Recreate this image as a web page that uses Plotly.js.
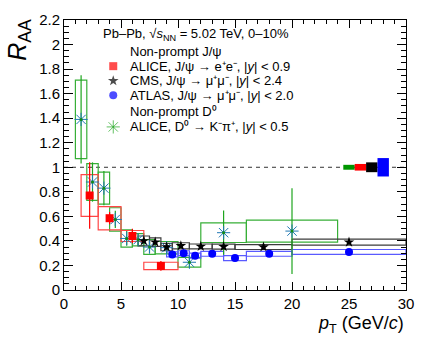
<!DOCTYPE html>
<html>
<head>
<meta charset="utf-8">
<script src="https://cdn.plot.ly/plotly-3.0.1.min.js"></script>
<style>
  body { margin: 0; background: #fff; }
  #raa { width: 432px; height: 338px; }
</style>
</head>
<body>
<div id="raa"></div>
<script>
// ALICE non-prompt J/psi -> e+e-
const aliceJpsiX = [2.25, 4.0, 6.0, 8.5];
const aliceJpsiLo = [1.5, 3, 5, 7];
const aliceJpsiHi = [3, 5, 7, 10];
const aliceJpsiY = [0.77, 0.585, 0.44, 0.196];
const aliceJpsiStat = [0.27, 0.05, 0.06, 0.04];
const aliceJpsiSys = [0.17, 0.095, 0.045, 0.03];

// CMS non-prompt J/psi -> mu+mu-
const cmsX = [7, 8, 9, 10.25, 12, 14, 17.5, 25];
const cmsLo = [6.5, 7.5, 8.5, 9.5, 11, 13, 15, 20];
const cmsHi = [7.5, 8.5, 9.5, 11, 13, 15, 20, 30];
const cmsY = [0.40, 0.39, 0.35, 0.36, 0.355, 0.353, 0.35, 0.39];
const cmsStat = [0.02, 0.02, 0.02, 0.02, 0.02, 0.02, 0.02, 0.02];
const cmsSys = [0.04, 0.035, 0.03, 0.025, 0.02, 0.02, 0.02, 0.025];

// ATLAS non-prompt J/psi -> mu+mu-
const atlasX = [9.5, 10.5, 11.5, 13, 15, 18, 25];
const atlasLo = [9, 10, 11, 12, 14, 16, 20];
const atlasHi = [10, 11, 12, 14, 16, 20, 30];
const atlasY = [0.29, 0.30, 0.28, 0.295, 0.26, 0.295, 0.31];
const atlasStat = [0.01, 0.01, 0.01, 0.01, 0.01, 0.01, 0.01];
const atlasSys = [0.02, 0.02, 0.02, 0.02, 0.02, 0.02, 0.02];

// ALICE non-prompt D0 -> K-pi+
const d0X = [1.5, 2.5, 3.5, 4.5, 5.5, 6.5, 7.5, 9, 11, 14, 20];
const d0Lo = [1, 2, 3, 4, 5, 6, 7, 8, 10, 12, 16];
const d0Hi = [2, 3, 4, 5, 6, 7, 8, 10, 12, 16, 24];
const d0Y = [1.39, 0.88, 0.83, 0.575, 0.42, 0.41, 0.35, 0.345, 0.226, 0.467, 0.48];
const d0Stat = [0.36, 0.16, 0.14, 0.07, 0.06, 0.05, 0.05, 0.05, 0.04, 0.18, 0.35];
const d0Sys = [0.32, 0.15, 0.13, 0.095, 0.07, 0.05, 0.06, 0.05, 0.04, 0.08, 0.09];

// global normalisation uncertainties at RAA = 1 (D0, ALICE, CMS, ATLAS)
const globLo = [24.5, 25.5, 26.5, 27.5];
const globHi = [25.5, 26.5, 27.5, 28.5];
const globErr = [0.02, 0.027, 0.04, 0.075];
const globColors = ["rgb(0,150,0)", "rgb(255,0,0)", "rgb(0,0,0)", "rgb(0,0,255)"];

// legend text lines and keys
const legendLines = [
  "Pb–Pb, √<i>s</i><sub>NN</sub> = 5.02 TeV, 0–10%",
  "Non-prompt J/ψ",
  "ALICE, J/ψ → e⁺e⁻, |<i>y</i>| < 0.9",
  "CMS, J/ψ → μ⁺μ⁻, |<i>y</i>| < 2.4",
  "ATLAS, J/ψ → μ⁺μ⁻, |<i>y</i>| < 2.0",
  "Non-prompt D⁰",
  "ALICE, D⁰ → K⁻π⁺, |<i>y</i>| < 0.5"
];
const legendLineY = [0.948, 0.883, 0.829, 0.775, 0.721, 0.660, 0.604];
const legendLineX = [0.108, 0.186, 0.186, 0.186, 0.186, 0.186, 0.186];
const legendKeyY = [0.829, 0.775, 0.721, 0.604];
const legendKeyX = [0.144, 0.144, 0.144, 0.144];

const FONT = "Liberation Sans, Arial, sans-serif";
const GREEN = "rgb(30,165,30)";

function boxShapes(lo, hi, y, sys, color) {
  const out = [];
  for (let i = 0; i < y.length; i++) {
    out.push({
      type: "rect", xref: "x", yref: "y", layer: "below",
      x0: lo[i], x1: hi[i], y0: y[i] - sys[i], y1: y[i] + sys[i],
      line: { color: color, width: 1.2 }, fillcolor: "rgba(0,0,0,0)"
    });
  }
  return out;
}

function pointTrace(x, y, stat, color, marker) {
  return {
    x: x, y: y, type: "scatter", mode: "markers", showlegend: false,
    marker: marker,
    error_y: { type: "data", array: stat, visible: true, color: color, thickness: 1.2, width: 0 },
    hoverinfo: "x+y"
  };
}

const shapes = [].concat(
  boxShapes(d0Lo, d0Hi, d0Y, d0Sys, "rgb(55,175,55)"),
  boxShapes(aliceJpsiLo, aliceJpsiHi, aliceJpsiY, aliceJpsiSys, "rgb(255,70,70)"),
  boxShapes(cmsLo, cmsHi, cmsY, cmsSys, "rgb(60,60,60)"),
  boxShapes(atlasLo, atlasHi, atlasY, atlasSys, "rgb(90,90,255)")
);

for (let i = 0; i < globLo.length; i++) {
  shapes.push({
    type: "rect", xref: "x", yref: "y", layer: "above",
    x0: globLo[i], x1: globHi[i], y0: 1 - globErr[i], y1: 1 + globErr[i],
    line: { width: 0 }, fillcolor: globColors[i]
  });
}

// dashed line at RAA = 1
shapes.unshift({
  type: "line", xref: "paper", yref: "y", x0: 0, x1: 1, y0: 1, y1: 1,
  line: { color: "#333", width: 1, dash: "4px,4px" }, layer: "below"
});

const traces = [
  pointTrace(d0X, d0Y, d0Stat, GREEN,
    { symbol: "asterisk-open", size: 11, line: { color: GREEN, width: 1 } }),
  { x: d0X, y: d0Y, type: "scatter", mode: "markers", showlegend: false, hoverinfo: "skip",
    marker: { symbol: "circle", size: 3, color: "rgb(20,140,20)" } },
  pointTrace(aliceJpsiX, aliceJpsiY, aliceJpsiStat, "rgb(255,0,0)",
    { symbol: "square", size: 8, color: "rgb(255,0,0)" }),
  pointTrace(cmsX, cmsY, cmsStat, "black",
    { symbol: "star", size: 8, color: "black" }),
  pointTrace(atlasX, atlasY, atlasStat, "rgb(0,0,255)",
    { symbol: "circle", size: 8, color: "rgb(0,0,255)" }),
  // legend keys, drawn on an overlay axis spanning the frame
  { x: legendKeyX, y: legendKeyY,
    xaxis: "x2", yaxis: "y2", type: "scatter", mode: "markers", showlegend: false, hoverinfo: "skip",
    marker: {
      symbol: ["square", "star", "circle", "asterisk-open"],
      size: [8, 8, 8, 11],
      color: ["rgb(255,0,0)", "black", "rgb(0,0,255)", GREEN],
      line: { color: ["rgb(255,0,0)", "black", "rgb(0,0,255)", GREEN], width: [0, 0, 0, 1] }
    } }
];

const annotations = legendLines.map((t, i) => ({
  text: t, xref: "paper", yref: "paper", x: legendLineX[i], y: legendLineY[i],
  xanchor: "left", yanchor: "middle", showarrow: false,
  font: { family: FONT, size: 13, color: "black" }
}));

annotations.push({
  text: "<i>R</i><sub>AA</sub>", xref: "paper", yref: "paper",
  x: -0.13, y: 1.01, xanchor: "center", yanchor: "top", textangle: -90,
  showarrow: false, font: { family: FONT, size: 25, color: "black" }
});
annotations.push({
  text: "<i>p</i><sub>T</sub> (GeV/<i>c</i>)", xref: "paper", yref: "paper",
  x: 1.0, y: -0.128, xanchor: "right", yanchor: "middle",
  showarrow: false, font: { family: FONT, size: 18, color: "black" }
});

const axisCommon = {
  showgrid: false, zeroline: false, showline: true, linecolor: "black", linewidth: 1,
  mirror: "ticks", ticks: "inside", tickcolor: "black", tickwidth: 1,
  tickfont: { family: FONT, size: 15, color: "black" }
};

const layout = {
  width: 432, height: 338,
  margin: { l: 64, r: 26, t: 20, b: 48 },
  paper_bgcolor: "white", plot_bgcolor: "white",
  showlegend: false,
  xaxis: Object.assign({}, axisCommon, {
    range: [0, 30], dtick: 5, tick0: 0, ticklen: 8,
    minor: { dtick: 1, ticklen: 4, ticks: "inside", tickcolor: "black" }
  }),
  yaxis: Object.assign({}, axisCommon, {
    range: [0, 2.2], dtick: 0.2, tick0: 0, ticklen: 9,
    minor: { dtick: 0.05, ticklen: 5, ticks: "inside", tickcolor: "black" }
  }),
  xaxis2: { overlaying: "x", range: [0, 1], visible: false, fixedrange: true },
  yaxis2: { overlaying: "y", range: [0, 1], visible: false, fixedrange: true },
  shapes: shapes,
  annotations: annotations
};

Plotly.newPlot("raa", traces, layout, { staticPlot: true });
</script>
</body>
</html>
